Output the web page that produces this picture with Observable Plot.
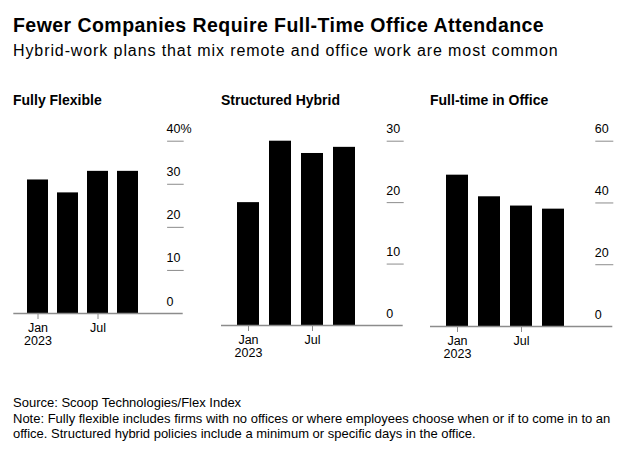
<!DOCTYPE html>
<html><head><meta charset="utf-8">
<script src="https://cdn.jsdelivr.net/npm/d3@7"></script>
<script src="https://cdn.jsdelivr.net/npm/@observablehq/plot@0.6"></script>
<style>
body{margin:0;background:#fff;font-family:"Liberation Sans",Arial,Helvetica,sans-serif;color:#000}
#root{position:relative;width:641px;height:455px;overflow:hidden;background:#fff}
.abs{position:absolute;white-space:nowrap}
#title{left:13px;top:16px;font-size:19.5px;line-height:19.5px;font-weight:bold;letter-spacing:0.45px}
#subtitle{left:13px;top:42.5px;font-size:16px;line-height:16px;letter-spacing:0.9px}
.ptitle{top:93px;font-size:14px;line-height:14px;font-weight:bold}
#footer{left:13px;top:395px;font-size:13px;line-height:15.5px}
svg{overflow:visible}
</style></head>
<body>
<div id="root">
  <div id="title" class="abs">Fewer Companies Require Full-Time Office Attendance</div>
  <div id="subtitle" class="abs">Hybrid-work plans that mix remote and office work are most common</div>
  <div id="pt0" class="abs ptitle" style="left:13px"></div>
  <div id="pt1" class="abs ptitle" style="left:221px"></div>
  <div id="pt2" class="abs ptitle" style="left:430px"></div>
  <div id="p0" class="abs" style="left:0px;top:110px"></div>
  <div id="p1" class="abs" style="left:210px;top:110px"></div>
  <div id="p2" class="abs" style="left:420px;top:110px"></div>
  <div id="footer" class="abs">Source: Scoop Technologies/Flex Index<br>Note: Fully flexible includes firms with no offices or where employees choose when or if to come in to an<br>office. Structured hybrid policies include a minimum or specific days in the office.</div>
</div>
<script>
const quarters = ["2023-01", "2023-04", "2023-07", "2023-10"];
const fullyFlexible = [31, 28, 33, 33];
const structuredHybrid = [20, 30, 28, 29];
const fullTimeOffice = [49, 42, 39, 38];
const panelTitles = ["Fully Flexible", "Structured Hybrid", "Full-time in Office"];
const yTicks1 = [0, 10, 20, 30, 40];
const yTicks2 = [0, 10, 20, 30];
const yTicks3 = [0, 20, 40, 60];
const xTickLabels = {"2023-01": "Jan\n2023", "2023-07": "Jul"};

function panel(values, yTicks, fmt, o) {
  const data = quarters.map((q, i) => ({q, v: values[i]}));
  return Plot.plot({
    width: o.width, height: o.height,
    marginTop: o.mt, marginBottom: o.mb, marginLeft: o.ml, marginRight: o.mr,
    style: {fontFamily: "'Liberation Sans', Arial, sans-serif", fontSize: "12.5px", color: "#000", background: "transparent", overflow: "visible"},
    x: {type: "band", domain: quarters, range: o.xr, paddingInner: o.pi, paddingOuter: 0, axis: null},
    y: {domain: [0, yTicks[yTicks.length - 1]], axis: null},
    marks: [
      Plot.barY(data, {x: "q", y: "v", fill: "#000"}),
      Plot.ruleY([0], {stroke: "#8c8c8c", strokeWidth: 1.3}),
      Plot.axisX({ticks: Object.keys(xTickLabels), tickFormat: d => xTickLabels[d], tickSize: 6, tickPadding: 4, stroke: "#8c8c8c", fill: "#000", label: null}),
      Plot.axisY({anchor: "right", ticks: yTicks.filter(t => t > 0), tickSize: o.ts, dx: -o.ts, tickFormat: () => "", stroke: "#8c8c8c", label: null}),
      Plot.axisY({anchor: "right", ticks: yTicks, tickSize: 0, tickPadding: 0, dx: -o.ts, dy: -12, tickFormat: fmt, fill: "#000", label: null})
    ]
  });
}

panelTitles.forEach((t, i) => document.getElementById("pt" + i).textContent = t);

document.getElementById("p0").append(panel(fullyFlexible, yTicks1, d => d === 40 ? "40%" : String(d),
  {width: 200, height: 245, mt: 30.7, mb: 42, ml: 13.3, mr: 17.3, xr: [26.7, 139], pi: 0.31, ts: 16.6}));
document.getElementById("p1").append(panel(structuredHybrid, yTicks2, d => String(d),
  {width: 210, height: 245, mt: 30.7, mb: 30, ml: 11, mr: 17.3, xr: [26, 146], pi: 0.32, ts: 17}));
document.getElementById("p2").append(panel(fullTimeOffice, yTicks3, d => String(d),
  {width: 221, height: 245, mt: 30.7, mb: 29, ml: 10, mr: 28.7, xr: [25, 144.7], pi: 0.3, ts: 18}));
</script>
</body></html>
